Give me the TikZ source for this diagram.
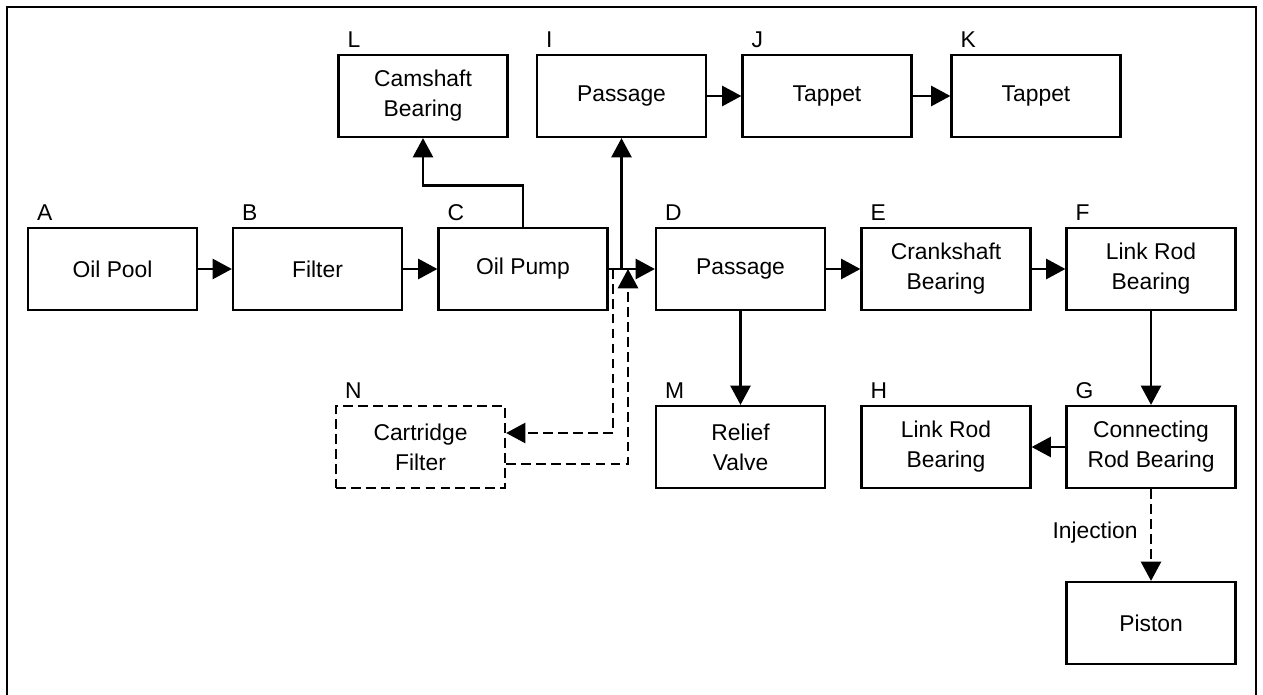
\documentclass[tikz,border=0pt]{standalone}
\usepackage{fontspec}
\setmainfont{Liberation Sans}
\usetikzlibrary{arrows.meta,calc}
\begin{document}
\begin{tikzpicture}[x=0.02cm,y=-0.02cm,
  every node/.style={font=\fontsize{13}{17}\selectfont},
  box/.style={draw,line width=1.3pt,minimum width=3.38cm,minimum height=1.64cm,align=center,inner sep=0pt},
  dbox/.style={box,dash pattern=on 5.5pt off 3pt},
  lbl/.style={anchor=base west,inner sep=0pt},
  arr/.style={line width=1.3pt,-{Triangle[length=11pt,width=11.5pt]}},
  ln/.style={line width=1.3pt},
  dsh/.style={dash pattern=on 5.5pt off 3pt}
]
\useasboundingbox (0,0) rectangle (1263,695);
\draw[ln] (7,695) -- (7,7) -- (1256,7) -- (1256,695);

% row 1
\node[box] (L) at (423,96) {Camshaft\\Bearing};
\node[box] (I) at (621.5,96) {Passage};
\node[box] (J) at (827,96) {Tappet};
\node[box] (K) at (1036,96) {Tappet};
% row 2
\node[box] (A) at (112.5,269) {Oil Pool};
\node[box] (B) at (317.5,269) {Filter};
\node[box] (C) at (523,269) {Oil Pump};
\node[box] (D) at (740.5,269) {Passage};
\node[box] (E) at (946,269) {Crankshaft\\Bearing};
\node[box] (F) at (1151,269) {Link Rod\\Bearing};
% row 3
\node[dbox] (N) at (420.5,447) {Cartridge\\Filter};
\node[box] (M) at (740.5,447) {Relief\\Valve};
\node[box] (H) at (946,447) {Link Rod\\Bearing};
\node[box] (G) at (1151,447) {Connecting\\Rod Bearing};
% row 4
\node[box] (P) at (1151,623) {Piston};

% letters
\foreach \n/\t in {L/L,I/I,J/J,K/K,A/A,B/B,C/C,D/D,E/E,F/F,N/N,M/M,H/H,G/G}
  \node[lbl] (lbl\n) at ($(\n.north west)+(10,-6)$) {\t};

% connectors
\coordinate (jn) at (621.5,269);
\coordinate (d1) at (613,269);
\coordinate (d2) at (628,269);
\coordinate (cl) at (523,185.5);
\draw[arr] (A) -- (B);
\draw[arr] (B) -- (C);
\draw[arr] (C) -- (D);
\draw[arr] (D) -- (E);
\draw[arr] (E) -- (F);
\draw[arr] (I) -- (J);
\draw[arr] (J) -- (K);
\draw[arr] (jn) -- (I.south);
\draw[arr] (C.north) -- (cl) -| (L.south);
\draw[arr] (D) -- (M);
\draw[arr] (F) -- (G);
\draw[arr] (G) -- (H);
\draw[arr,dsh] (d1) |- ($(N.east)+(0,-14)$);
\draw[arr,dsh] ($(N.east)+(0,17)$) -| (d2);
\draw[arr,dsh] (G) -- node[pos=0.47,anchor=east,inner sep=0pt,xshift=-7pt] (inj) {Injection} (P);
\end{tikzpicture}
\end{document}
